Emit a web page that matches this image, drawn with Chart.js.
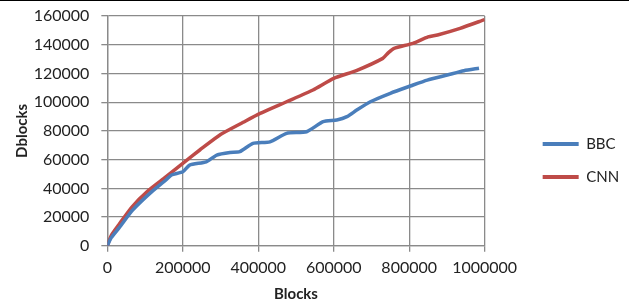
<!DOCTYPE html>
<html>
<head>
<meta charset="utf-8">
<script src="https://cdn.jsdelivr.net/npm/chart.js@4"></script>
<style>
  html, body { margin: 0; padding: 0; background: #fff; }
  #wrap { position: relative; width: 629px; height: 305px; }
  #topline { position: absolute; left: 0; top: 0; width: 629px; height: 1px; background: #000; }
</style>
</head>
<body>
<div id="wrap">
  <canvas id="blocksChart" width="629" height="305" style="width:629px;height:305px"></canvas>
  <div id="topline"></div>
</div>
<script>
// Values
var seriesNames = ['BBC', 'CNN'];

var bbcBlocks = [0, 10000, 32000, 67000, 112000, 156000, 170000, 200000, 218000, 262000, 290000, 325000, 351000, 386000, 431000, 475000, 528000, 572000, 608000, 635000, 661000, 697000, 750000, 803000, 848000, 901000, 945000, 985000];
var bbcDblocks = [0, 5500, 12800, 24800, 36300, 46000, 49300, 51500, 56200, 58500, 63200, 65000, 65500, 71300, 72400, 78300, 79400, 86400, 87600, 89900, 94500, 100300, 106200, 111250, 115400, 118900, 121900, 123600];

var cnnBlocks = [0, 10000, 30000, 65000, 110000, 155000, 205000, 245000, 300000, 360000, 405000, 475000, 545000, 600000, 660000, 730000, 745000, 760000, 810000, 850000, 875000, 935000, 1000000];
var cnnDblocks = [0, 7000, 14500, 27000, 38800, 48000, 58500, 66700, 77500, 86000, 92200, 100300, 108500, 116600, 122000, 130500, 134500, 137500, 141000, 145500, 146800, 151400, 157500];

var xTicks = [0, 200000, 400000, 600000, 800000, 1000000];
var yTicks = [0, 20000, 40000, 60000, 80000, 100000, 120000, 140000, 160000];

// Turn two arrays into {x, y} points for a linear x scale
function toPoints(xs, ys) {
  return xs.map(function (x, i) { return { x: x, y: ys[i] }; });
}

var textColor = '#222';
var gridColor = '#8a8a8a';

Chart.defaults.font.family = 'Lato';
Chart.defaults.font.size = 16;
Chart.defaults.color = textColor;

new Chart(document.getElementById('blocksChart'), {
  type: 'line',
  data: {
    datasets: [{
      label: seriesNames[0],
      data: toPoints(bbcBlocks, bbcDblocks),
      borderColor: '#4A7EBB',
      backgroundColor: '#4A7EBB',
      borderWidth: 3.5,
      pointRadius: 0,
      tension: 0.2,
      yAxisID: 'y'
    },
    {
      label: seriesNames[1],
      data: toPoints(cnnBlocks, cnnDblocks),
      borderColor: '#BE4B48',
      backgroundColor: '#BE4B48',
      borderWidth: 3.5,
      pointRadius: 0,
      tension: 0.2,
      yAxisID: 'y'
    }]
  },
  options: {
    responsive: false,
    animation: false,
    layout: { padding: { top: 16, right: 0, bottom: 0, left: 3 } },
    plugins: {
      tooltip: { enabled: false },
      legend: {
        position: 'right',
        labels: {
          boxWidth: 36,
          boxHeight: 4,
          padding: 18,
          font: { size: 15 },
          color: textColor,
          generateLabels: function (chart) {
            var items = Chart.defaults.plugins.legend.labels.generateLabels(chart);
            items.forEach(function (it) { it.lineWidth = 0; });
            return items;
          }
        }
      }
    },
    scales: {
      x: {
        type: 'linear',
        min: 0,
        max: 1000000,
        afterBuildTicks: function (scale) {
          scale.ticks = xTicks.map(function (v) { return { value: v }; });
        },
        ticks: {
          maxRotation: 0,
          autoSkip: false,
          padding: 6,
          callback: function (v) { return String(v); }
        },
        grid: { color: gridColor, lineWidth: 1.3, tickLength: 6 },
        border: { color: gridColor, width: 1.3 },
        title: {
          display: true,
          text: 'Blocks',
          font: { weight: 'bold', size: 15 },
          padding: { top: 2, bottom: 2 }
        }
      },
      y: {
        type: 'linear',
        position: 'left',
        min: 0,
        max: 160000,
        afterBuildTicks: function (scale) {
          scale.ticks = yTicks.map(function (v) { return { value: v }; });
        },
        afterFit: function (scale) { scale.paddingTop = 0; },
        ticks: {
          padding: 12,
          callback: function (v) { return String(v); }
        },
        grid: { color: gridColor, lineWidth: 1.3, tickLength: 6 },
        border: { color: gridColor, width: 1.3 },
        title: {
          display: true,
          text: 'Dblocks',
          font: { weight: 'bold', size: 15 },
          padding: 10
        }
      },
      // empty space between plot and legend
      gap: {
        type: 'linear',
        position: 'right',
        display: true,
        grid: { display: false, drawTicks: false },
        border: { display: false },
        ticks: { display: false },
        afterFit: function (scale) { scale.width = 40; }
      }
    }
  }
});
</script>
</body>
</html>
